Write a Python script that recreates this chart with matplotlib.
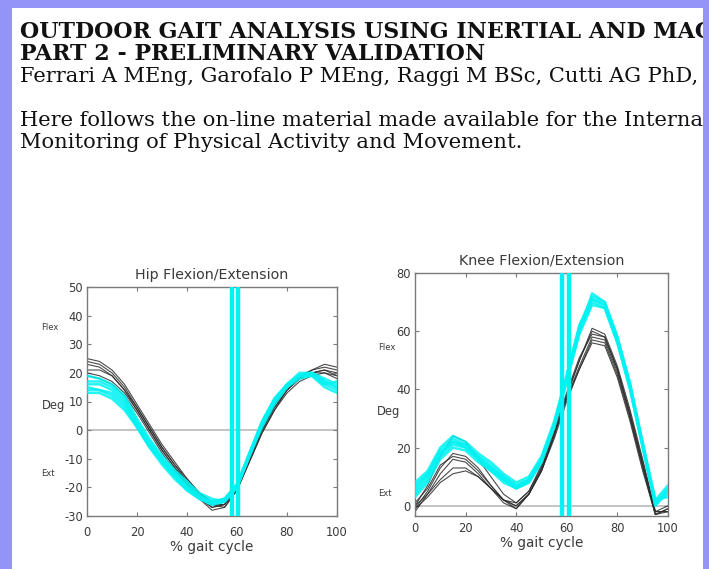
import numpy as np
import matplotlib
matplotlib.use("Agg")
import matplotlib.pyplot as plt
from matplotlib.patches import Rectangle

# =========================
# DATA (% gait cycle every 5 %)
# =========================
GAIT = [0, 5, 10, 15, 20, 25, 30, 35, 40, 45, 50, 55, 60, 65, 70, 75, 80, 85, 90, 95, 100]

# hip flexion/extension, reference system (black)
HIP_REF = [
    [25, 24, 21, 16, 9, 2, -5, -11, -17, -22, -26, -27, -21, -10, 0, 8, 14, 18, 21, 22, 21],
    [24, 23, 20, 15, 8, 1, -6, -12, -18, -23, -26, -26, -20, -9, 1, 9, 15, 19, 21, 23, 22],
    [23, 22, 19, 14, 8, 1, -6, -12, -17, -22, -25, -25, -19, -9, 1, 9, 15, 18, 20, 21, 20],
    [21, 21, 19, 14, 7, 0, -7, -13, -18, -23, -27, -26, -20, -10, 0, 8, 14, 18, 20, 20, 19],
    [20, 19, 17, 13, 7, 0, -7, -13, -19, -24, -27, -26, -21, -11, -1, 7, 13, 17, 19, 20, 18],
    [19, 18, 16, 12, 6, -1, -8, -14, -19, -24, -28, -27, -21, -11, -1, 7, 14, 18, 20, 21, 19],
]
# hip flexion/extension, inertial system (cyan)
HIP_IMU = [
    [19, 18, 16, 12, 4, -3, -9, -14, -18, -22, -24, -25, -20, -9, 2, 10, 16, 20, 20, 17, 15],
    [17, 17, 15, 11, 3, -4, -10, -15, -19, -23, -25, -24, -19, -8, 3, 11, 16, 19, 20, 18, 16],
    [16, 16, 14, 10, 2, -5, -10, -15, -20, -23, -25, -25, -20, -9, 2, 10, 16, 19, 19, 16, 14],
    [15, 14, 13, 9, 2, -5, -11, -16, -20, -24, -26, -25, -19, -8, 2, 10, 15, 19, 20, 17, 15],
    [14, 14, 12, 8, 1, -6, -11, -16, -21, -24, -26, -25, -20, -9, 1, 9, 15, 18, 19, 15, 13],
    [13, 13, 11, 7, 1, -6, -12, -17, -21, -24, -25, -24, -19, -8, 3, 11, 16, 19, 19, 16, 17],
]

# knee flexion/extension, reference system (black)
KNEE_REF = [
    [0, 7, 17, 24, 22, 16, 10, 4, 1, 5, 13, 25, 38, 50, 60, 58, 47, 32, 15, -2, -2],
    [-1, 5, 13, 18, 17, 13, 7, 2, -1, 4, 12, 24, 37, 48, 58, 57, 46, 31, 14, -3, -1],
    [-2, 4, 11, 16, 15, 11, 6, 1, -1, 4, 12, 24, 38, 50, 61, 59, 48, 33, 16, -2, -2],
    [1, 6, 14, 17, 16, 12, 7, 2, 0, 4, 13, 25, 37, 47, 57, 56, 45, 30, 13, -3, -2],
    [-1, 3, 8, 11, 12, 10, 6, 2, 0, 4, 12, 23, 36, 47, 56, 55, 44, 29, 12, -3, -1],
    [0, 4, 9, 13, 13, 10, 6, 2, 1, 5, 14, 26, 39, 51, 59, 58, 47, 31, 14, -2, 0],
]
# knee flexion/extension, inertial system (cyan)
KNEE_IMU = [
    [8, 12, 20, 24, 22, 18, 15, 11, 8, 10, 17, 29, 45, 62, 72, 70, 58, 42, 22, 2, 7],
    [6, 11, 19, 23, 21, 17, 14, 10, 7, 9, 16, 28, 44, 61, 71, 69, 57, 41, 21, 1, 6],
    [5, 10, 18, 22, 20, 16, 13, 9, 6, 8, 15, 27, 43, 60, 70, 68, 56, 40, 20, 0, 5],
    [4, 9, 17, 21, 20, 16, 12, 9, 6, 9, 16, 28, 44, 60, 73, 70, 58, 42, 21, 1, 4],
    [3, 8, 16, 20, 19, 15, 12, 8, 6, 8, 15, 27, 43, 59, 69, 68, 56, 40, 20, 0, 6],
    [7, 11, 18, 22, 21, 17, 13, 10, 7, 9, 16, 28, 45, 62, 71, 69, 57, 41, 21, 2, 3],
]

# toe-off markers (% gait cycle)
HIP_TOE_OFF = [57.8, 60.4]
KNEE_TOE_OFF = [58.2, 61.0]

HIP_YTICKS = [-30, -20, -10, 0, 10, 20, 30, 40, 50]
KNEE_YTICKS = [0, 20, 40, 60, 80]
XTICKS = [0, 20, 40, 60, 80, 100]

HEADER = [
    ("OUTDOOR GAIT ANALYSIS USING INERTIAL AND MAGNETIC SENSORS:", "bold"),
    ("PART 2 - PRELIMINARY VALIDATION", "bold"),
    ("Ferrari A MEng, Garofalo P MEng, Raggi M BSc, Cutti AG PhD, Cappello A PhD", "normal"),
    ("Here follows the on-line material made available for the International Conference on Ambulatory", "normal"),
    ("Monitoring of Physical Activity and Movement.", "normal"),
]
HEADER_Y = [38, 60, 82, 126, 148]  # baselines in px from top

# =========================
# STYLE
# =========================
W, H = 709, 569
BORDER = "#9494f8"
FRAME = "#7a7a7a"
TXT = "#3a3a3a"
BLACK = "#2b2b2b"
CYAN = "#00f2f2"
SERIF = "DejaVu Serif"


def px(x, y):
    return x / W, 1 - y / H


def fit_size(fig, s, weight, target_px):
    # font size giving the width that the (stretched) scan shows
    t = fig.text(0, 0, s, family=SERIF, fontsize=10, fontweight=weight)
    w = t.get_window_extent(fig.canvas.get_renderer()).width
    t.remove()
    return 10 * target_px / w


def draw_panel(ax, ref, imu, toe_off, yticks, ylim, title, xpad):
    ax.axhline(0, color="#c4c4c4", lw=1.4, zorder=1)
    for curve in ref:
        ax.plot(GAIT, curve, color=BLACK, lw=0.8, alpha=0.85, zorder=2)
    for curve in imu:
        ax.plot(GAIT, curve, color=CYAN, lw=1.8, alpha=0.85, zorder=3)
    for xv in toe_off:
        ax.axvline(xv, color=CYAN, lw=3.2, zorder=4)
    ax.set_xlim(0, 100)
    ax.set_ylim(*ylim)
    ax.set_xticks(XTICKS)
    ax.set_yticks(yticks)
    ax.tick_params(direction="in", top=True, right=True, length=3,
                   width=0.8, color=FRAME, labelcolor=TXT, labelsize=8.3)
    ax.tick_params(axis="x", pad=xpad)
    ax.tick_params(axis="y", pad=3)
    for sp in ax.spines.values():
        sp.set_color(FRAME)
        sp.set_linewidth(1.0)
    ax.set_title(title, fontsize=10.3, color=TXT, pad=6)
    ax.set_xlabel("% gait cycle", fontsize=9.8, color=TXT, labelpad=1)


def main() -> None:
    plt.rcParams["font.family"] = ["DejaVu Sans"]
    plt.rcParams["axes.unicode_minus"] = False
    fig = plt.figure(figsize=(W / 100, H / 100), dpi=100)
    fig.patch.set_facecolor("white")

    # header text (clipped on the right by the border)
    size_b = fit_size(fig, "OUTDOOR GAIT ANALYSIS USING INERTIAL AND MA", "bold", 675)
    size_n = fit_size(fig, "Ferrari A MEng, Garofalo P MEng, Raggi M BSc, Cutti AG PhD,", "normal", 680)
    for (line, weight), yb in zip(HEADER, HEADER_Y):
        fig.text(*px(20, yb), line, family=SERIF,
                 fontsize=size_b if weight == "bold" else size_n,
                 fontweight=weight, color="#111111", va="baseline", ha="left")

    ax1 = fig.add_axes([87 / W, 1 - 516 / H, 250 / W, 229 / H])
    draw_panel(ax1, HIP_REF, HIP_IMU, HIP_TOE_OFF, HIP_YTICKS, (-30, 50),
               "Hip Flexion/Extension", 7)

    ax2 = fig.add_axes([415 / W, 1 - 516 / H, 253 / W, 243 / H])
    draw_panel(ax2, KNEE_REF, KNEE_IMU, KNEE_TOE_OFF, KNEE_YTICKS, (-3.5, 80),
               "Knee Flexion/Extension", 4)

    # side annotations
    fig.text(*px(41, 327), "Flex", fontsize=6, color=TXT, va="center")
    fig.text(*px(42, 405), "Deg", fontsize=8.3, color=TXT, va="center")
    fig.text(*px(41, 473), "Ext", fontsize=6, color=TXT, va="center")
    fig.text(*px(378, 347), "Flex", fontsize=6, color=TXT, va="center")
    fig.text(*px(377, 412), "Deg", fontsize=8.3, color=TXT, va="center")
    fig.text(*px(378, 493), "Ext", fontsize=6, color=TXT, va="center")

    # page border
    for x0, y0, w, h in [(0, 0, 12, H), (0, 0, W, 8), (703, 0, 6, H)]:
        fig.patches.append(Rectangle((x0 / W, 1 - (y0 + h) / H), w / W, h / H,
                                     transform=fig.transFigure, facecolor=BORDER,
                                     edgecolor="none", zorder=10))

    fig.savefig("out.png", dpi=100)
    plt.close(fig)


if __name__ == "__main__":
    main()
